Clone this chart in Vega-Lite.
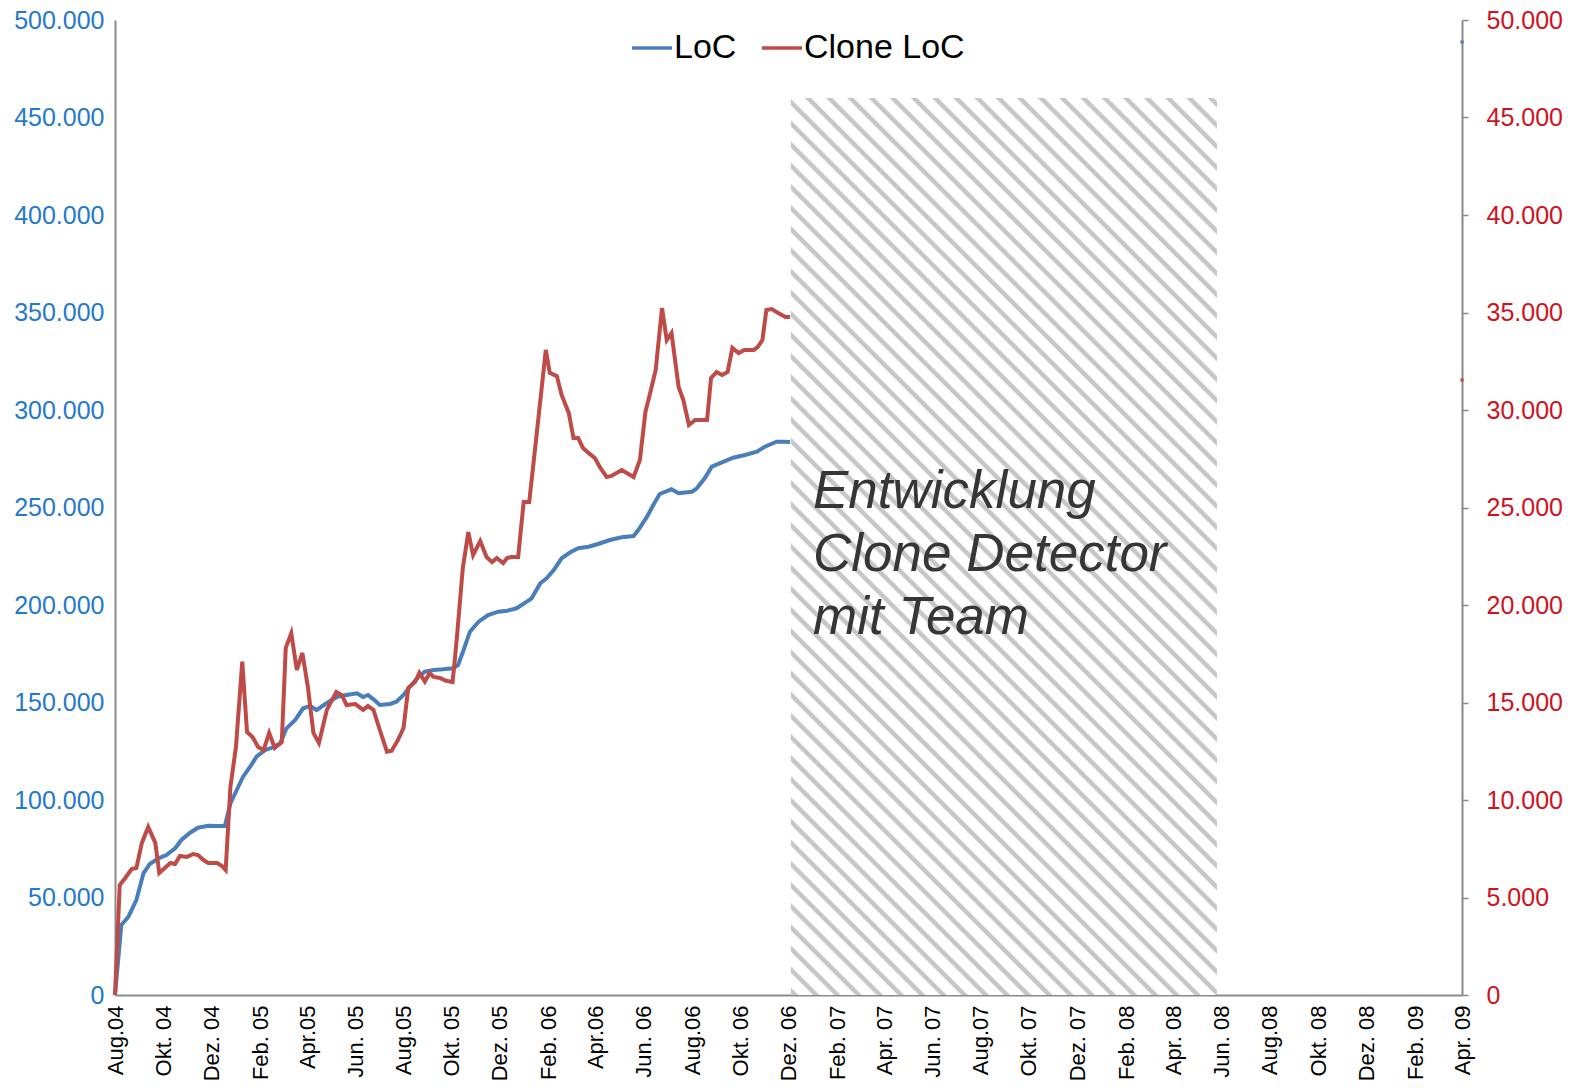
{
  "$schema": "https://vega.github.io/schema/vega-lite/v6.json",
  "width": 1347,
  "height": 975,
  "autosize": {"type": "none"},
  "padding": {"left": 115, "top": 20, "right": 113, "bottom": 93},
  "background": "white",
  "config": {"view": {"stroke": null}, "font": "Liberation Sans"},
  "datasets": {
    "loc": [
      {"date": "2004-08-01", "loc": 0},
      {"date": "2004-08-09", "loc": 35900},
      {"date": "2004-08-18", "loc": 40150},
      {"date": "2004-08-28", "loc": 48720},
      {"date": "2004-09-06", "loc": 62410},
      {"date": "2004-09-14", "loc": 67180},
      {"date": "2004-09-25", "loc": 70100},
      {"date": "2004-10-05", "loc": 71800},
      {"date": "2004-10-16", "loc": 75230},
      {"date": "2004-10-24", "loc": 79490},
      {"date": "2004-11-04", "loc": 83230},
      {"date": "2004-11-14", "loc": 85800},
      {"date": "2004-11-27", "loc": 86820},
      {"date": "2004-12-08", "loc": 86670},
      {"date": "2004-12-18", "loc": 86670},
      {"date": "2004-12-25", "loc": 98310},
      {"date": "2005-01-02", "loc": 105130},
      {"date": "2005-01-10", "loc": 111950},
      {"date": "2005-01-19", "loc": 117080},
      {"date": "2005-01-27", "loc": 122200},
      {"date": "2005-02-07", "loc": 125640},
      {"date": "2005-02-17", "loc": 127030},
      {"date": "2005-02-26", "loc": 129080},
      {"date": "2005-03-06", "loc": 136770},
      {"date": "2005-03-17", "loc": 141030},
      {"date": "2005-03-27", "loc": 147030},
      {"date": "2005-04-05", "loc": 148210},
      {"date": "2005-04-13", "loc": 146150},
      {"date": "2005-04-26", "loc": 149740},
      {"date": "2005-05-09", "loc": 152970},
      {"date": "2005-05-21", "loc": 153850},
      {"date": "2005-06-03", "loc": 154720},
      {"date": "2005-06-11", "loc": 152820},
      {"date": "2005-06-17", "loc": 153850},
      {"date": "2005-06-24", "loc": 151640},
      {"date": "2005-07-02", "loc": 148720},
      {"date": "2005-07-15", "loc": 149230},
      {"date": "2005-07-23", "loc": 150410},
      {"date": "2005-08-01", "loc": 153850},
      {"date": "2005-08-09", "loc": 158100},
      {"date": "2005-08-20", "loc": 163230},
      {"date": "2005-08-28", "loc": 165800},
      {"date": "2005-09-08", "loc": 166670},
      {"date": "2005-09-20", "loc": 167030},
      {"date": "2005-10-03", "loc": 167540},
      {"date": "2005-10-09", "loc": 169230},
      {"date": "2005-10-16", "loc": 176920},
      {"date": "2005-10-24", "loc": 186310},
      {"date": "2005-11-04", "loc": 191440},
      {"date": "2005-11-16", "loc": 194870},
      {"date": "2005-11-29", "loc": 196560},
      {"date": "2005-12-10", "loc": 197080},
      {"date": "2005-12-22", "loc": 198310},
      {"date": "2006-01-04", "loc": 201690},
      {"date": "2006-01-10", "loc": 203440},
      {"date": "2006-01-21", "loc": 211130},
      {"date": "2006-01-29", "loc": 213690},
      {"date": "2006-02-07", "loc": 217950},
      {"date": "2006-02-17", "loc": 223950},
      {"date": "2006-02-28", "loc": 227030},
      {"date": "2006-03-10", "loc": 229080},
      {"date": "2006-03-23", "loc": 229900},
      {"date": "2006-04-04", "loc": 231280},
      {"date": "2006-04-19", "loc": 233330},
      {"date": "2006-05-04", "loc": 234720},
      {"date": "2006-05-19", "loc": 235380},
      {"date": "2006-05-25", "loc": 238460},
      {"date": "2006-06-05", "loc": 245280},
      {"date": "2006-06-13", "loc": 251280},
      {"date": "2006-06-21", "loc": 256920},
      {"date": "2006-07-06", "loc": 259330},
      {"date": "2006-07-15", "loc": 257280},
      {"date": "2006-08-01", "loc": 258100},
      {"date": "2006-08-07", "loc": 259850},
      {"date": "2006-08-17", "loc": 264970},
      {"date": "2006-08-26", "loc": 270920},
      {"date": "2006-09-10", "loc": 273490},
      {"date": "2006-09-22", "loc": 275540},
      {"date": "2006-10-07", "loc": 276920},
      {"date": "2006-10-22", "loc": 278620},
      {"date": "2006-11-01", "loc": 281180},
      {"date": "2006-11-16", "loc": 283740},
      {"date": "2006-11-24", "loc": 283740},
      {"date": "2006-12-03", "loc": 283590}
    ],
    "clone": [
      {"date": "2004-08-01", "clone": 0},
      {"date": "2004-08-07", "clone": 5640},
      {"date": "2004-08-14", "clone": 6000},
      {"date": "2004-08-22", "clone": 6460},
      {"date": "2004-08-28", "clone": 6510},
      {"date": "2004-09-04", "clone": 7800},
      {"date": "2004-09-12", "clone": 8620},
      {"date": "2004-09-21", "clone": 7800},
      {"date": "2004-09-26", "clone": 6260},
      {"date": "2004-10-03", "clone": 6510},
      {"date": "2004-10-10", "clone": 6770},
      {"date": "2004-10-16", "clone": 6720},
      {"date": "2004-10-22", "clone": 7130},
      {"date": "2004-10-31", "clone": 7080},
      {"date": "2004-11-08", "clone": 7230},
      {"date": "2004-11-14", "clone": 7180},
      {"date": "2004-11-21", "clone": 6920},
      {"date": "2004-11-27", "clone": 6770},
      {"date": "2004-12-08", "clone": 6770},
      {"date": "2004-12-14", "clone": 6620},
      {"date": "2004-12-19", "clone": 6410},
      {"date": "2004-12-25", "clone": 10670},
      {"date": "2005-01-01", "clone": 12720},
      {"date": "2005-01-09", "clone": 17100},
      {"date": "2005-01-15", "clone": 13490},
      {"date": "2005-01-22", "clone": 13230},
      {"date": "2005-01-29", "clone": 12720},
      {"date": "2005-02-05", "clone": 12560},
      {"date": "2005-02-12", "clone": 13440},
      {"date": "2005-02-19", "clone": 12670},
      {"date": "2005-02-28", "clone": 12970},
      {"date": "2005-03-05", "clone": 17800},
      {"date": "2005-03-12", "clone": 18560},
      {"date": "2005-03-19", "clone": 16670},
      {"date": "2005-03-26", "clone": 17540},
      {"date": "2005-04-02", "clone": 15800},
      {"date": "2005-04-09", "clone": 13440},
      {"date": "2005-04-16", "clone": 12920},
      {"date": "2005-04-26", "clone": 14620},
      {"date": "2005-05-08", "clone": 15540},
      {"date": "2005-05-15", "clone": 15380},
      {"date": "2005-05-21", "clone": 14870},
      {"date": "2005-06-01", "clone": 14920},
      {"date": "2005-06-11", "clone": 14620},
      {"date": "2005-06-17", "clone": 14820},
      {"date": "2005-06-24", "clone": 14620},
      {"date": "2005-07-02", "clone": 13590},
      {"date": "2005-07-11", "clone": 12480},
      {"date": "2005-07-17", "clone": 12530},
      {"date": "2005-07-25", "clone": 13080},
      {"date": "2005-08-01", "clone": 13690},
      {"date": "2005-08-07", "clone": 15740},
      {"date": "2005-08-16", "clone": 16070},
      {"date": "2005-08-21", "clone": 16530},
      {"date": "2005-08-28", "clone": 16070},
      {"date": "2005-09-03", "clone": 16510},
      {"date": "2005-09-08", "clone": 16310},
      {"date": "2005-09-16", "clone": 16260},
      {"date": "2005-09-23", "clone": 16120},
      {"date": "2005-10-02", "clone": 16050},
      {"date": "2005-10-04", "clone": 16820},
      {"date": "2005-10-08", "clone": 18560},
      {"date": "2005-10-15", "clone": 21900},
      {"date": "2005-10-22", "clone": 23740},
      {"date": "2005-10-28", "clone": 22560},
      {"date": "2005-11-06", "clone": 23280},
      {"date": "2005-11-14", "clone": 22460},
      {"date": "2005-11-21", "clone": 22200},
      {"date": "2005-11-27", "clone": 22410},
      {"date": "2005-12-05", "clone": 22150},
      {"date": "2005-12-10", "clone": 22410},
      {"date": "2005-12-16", "clone": 22460},
      {"date": "2005-12-24", "clone": 22460},
      {"date": "2005-12-31", "clone": 25280},
      {"date": "2006-01-07", "clone": 25280},
      {"date": "2006-01-17", "clone": 28970},
      {"date": "2006-01-28", "clone": 33080},
      {"date": "2006-02-02", "clone": 31900},
      {"date": "2006-02-11", "clone": 31740},
      {"date": "2006-02-17", "clone": 30770},
      {"date": "2006-02-26", "clone": 29850},
      {"date": "2006-03-04", "clone": 28560},
      {"date": "2006-03-10", "clone": 28560},
      {"date": "2006-03-16", "clone": 28050},
      {"date": "2006-03-23", "clone": 27800},
      {"date": "2006-03-31", "clone": 27540},
      {"date": "2006-04-07", "clone": 27030},
      {"date": "2006-04-15", "clone": 26560},
      {"date": "2006-04-21", "clone": 26620},
      {"date": "2006-05-04", "clone": 26920},
      {"date": "2006-05-19", "clone": 26560},
      {"date": "2006-05-27", "clone": 27440},
      {"date": "2006-06-03", "clone": 29900},
      {"date": "2006-06-09", "clone": 30870},
      {"date": "2006-06-16", "clone": 32050},
      {"date": "2006-06-24", "clone": 35230},
      {"date": "2006-06-30", "clone": 33590},
      {"date": "2006-07-06", "clone": 33950},
      {"date": "2006-07-15", "clone": 31180},
      {"date": "2006-07-21", "clone": 30510},
      {"date": "2006-07-28", "clone": 29230},
      {"date": "2006-08-05", "clone": 29490},
      {"date": "2006-08-20", "clone": 29490},
      {"date": "2006-08-25", "clone": 31640},
      {"date": "2006-09-01", "clone": 31950},
      {"date": "2006-09-08", "clone": 31800},
      {"date": "2006-09-15", "clone": 31950},
      {"date": "2006-09-21", "clone": 33180},
      {"date": "2006-09-29", "clone": 32920},
      {"date": "2006-10-06", "clone": 33080},
      {"date": "2006-10-18", "clone": 33080},
      {"date": "2006-10-23", "clone": 33230},
      {"date": "2006-10-29", "clone": 33590},
      {"date": "2006-11-03", "clone": 35130},
      {"date": "2006-11-10", "clone": 35180},
      {"date": "2006-11-18", "clone": 34970},
      {"date": "2006-11-27", "clone": 34770},
      {"date": "2006-12-03", "clone": 34770}
    ],
    "ends": [{"date": "2009-04-01", "loc": 488700, "clone": 31540}],
    "phase": [{"start": "2006-12-04", "end": "2008-05-26", "top": 460000, "bottom": 0}],
    "note": [{"date": "2007-01-01", "value": 250000, "label": "Entwicklung\nClone Detector\nmit Team"}]
  },
  "layer": [
    {
      "layer": [
        {
          "data": {"name": "phase"},
          "mark": {
            "type": "rect",
            "fill": {
              "gradient": "linear", "x1": 0, "y1": 1, "x2": 0.5708, "y2": -0.2035,
              "stops": [
                {"offset": 0, "color": "#ffffff"}, {"offset": 0.0016, "color": "#c6c6c6"}, {"offset": 0.0048, "color": "#c6c6c6"}, {"offset": 0.0064, "color": "#ffffff"},
                {"offset": 0.016, "color": "#ffffff"}, {"offset": 0.0176, "color": "#c6c6c6"}, {"offset": 0.0208, "color": "#c6c6c6"}, {"offset": 0.0224, "color": "#ffffff"},
                {"offset": 0.032, "color": "#ffffff"}, {"offset": 0.0336, "color": "#c6c6c6"}, {"offset": 0.0368, "color": "#c6c6c6"}, {"offset": 0.0384, "color": "#ffffff"},
                {"offset": 0.048, "color": "#ffffff"}, {"offset": 0.0496, "color": "#c6c6c6"}, {"offset": 0.0528, "color": "#c6c6c6"}, {"offset": 0.0544, "color": "#ffffff"},
                {"offset": 0.064, "color": "#ffffff"}, {"offset": 0.0656, "color": "#c6c6c6"}, {"offset": 0.0688, "color": "#c6c6c6"}, {"offset": 0.0704, "color": "#ffffff"},
                {"offset": 0.08, "color": "#ffffff"}, {"offset": 0.0816, "color": "#c6c6c6"}, {"offset": 0.0848, "color": "#c6c6c6"}, {"offset": 0.0864, "color": "#ffffff"},
                {"offset": 0.096, "color": "#ffffff"}, {"offset": 0.0976, "color": "#c6c6c6"}, {"offset": 0.1008, "color": "#c6c6c6"}, {"offset": 0.1024, "color": "#ffffff"},
                {"offset": 0.112, "color": "#ffffff"}, {"offset": 0.1136, "color": "#c6c6c6"}, {"offset": 0.1168, "color": "#c6c6c6"}, {"offset": 0.1184, "color": "#ffffff"},
                {"offset": 0.128, "color": "#ffffff"}, {"offset": 0.1296, "color": "#c6c6c6"}, {"offset": 0.1328, "color": "#c6c6c6"}, {"offset": 0.1344, "color": "#ffffff"},
                {"offset": 0.144, "color": "#ffffff"}, {"offset": 0.1456, "color": "#c6c6c6"}, {"offset": 0.1488, "color": "#c6c6c6"}, {"offset": 0.1504, "color": "#ffffff"},
                {"offset": 0.16, "color": "#ffffff"}, {"offset": 0.1616, "color": "#c6c6c6"}, {"offset": 0.1648, "color": "#c6c6c6"}, {"offset": 0.1664, "color": "#ffffff"},
                {"offset": 0.176, "color": "#ffffff"}, {"offset": 0.1776, "color": "#c6c6c6"}, {"offset": 0.1808, "color": "#c6c6c6"}, {"offset": 0.1824, "color": "#ffffff"},
                {"offset": 0.192, "color": "#ffffff"}, {"offset": 0.1936, "color": "#c6c6c6"}, {"offset": 0.1968, "color": "#c6c6c6"}, {"offset": 0.1984, "color": "#ffffff"},
                {"offset": 0.208, "color": "#ffffff"}, {"offset": 0.2096, "color": "#c6c6c6"}, {"offset": 0.2128, "color": "#c6c6c6"}, {"offset": 0.2144, "color": "#ffffff"},
                {"offset": 0.224, "color": "#ffffff"}, {"offset": 0.2256, "color": "#c6c6c6"}, {"offset": 0.2288, "color": "#c6c6c6"}, {"offset": 0.2304, "color": "#ffffff"},
                {"offset": 0.24, "color": "#ffffff"}, {"offset": 0.2416, "color": "#c6c6c6"}, {"offset": 0.2448, "color": "#c6c6c6"}, {"offset": 0.2464, "color": "#ffffff"},
                {"offset": 0.256, "color": "#ffffff"}, {"offset": 0.2576, "color": "#c6c6c6"}, {"offset": 0.2608, "color": "#c6c6c6"}, {"offset": 0.2624, "color": "#ffffff"},
                {"offset": 0.272, "color": "#ffffff"}, {"offset": 0.2736, "color": "#c6c6c6"}, {"offset": 0.2768, "color": "#c6c6c6"}, {"offset": 0.2784, "color": "#ffffff"},
                {"offset": 0.288, "color": "#ffffff"}, {"offset": 0.2896, "color": "#c6c6c6"}, {"offset": 0.2928, "color": "#c6c6c6"}, {"offset": 0.2944, "color": "#ffffff"},
                {"offset": 0.304, "color": "#ffffff"}, {"offset": 0.3056, "color": "#c6c6c6"}, {"offset": 0.3088, "color": "#c6c6c6"}, {"offset": 0.3104, "color": "#ffffff"},
                {"offset": 0.32, "color": "#ffffff"}, {"offset": 0.3216, "color": "#c6c6c6"}, {"offset": 0.3248, "color": "#c6c6c6"}, {"offset": 0.3264, "color": "#ffffff"},
                {"offset": 0.336, "color": "#ffffff"}, {"offset": 0.3376, "color": "#c6c6c6"}, {"offset": 0.3408, "color": "#c6c6c6"}, {"offset": 0.3424, "color": "#ffffff"},
                {"offset": 0.352, "color": "#ffffff"}, {"offset": 0.3536, "color": "#c6c6c6"}, {"offset": 0.3568, "color": "#c6c6c6"}, {"offset": 0.3584, "color": "#ffffff"},
                {"offset": 0.368, "color": "#ffffff"}, {"offset": 0.3696, "color": "#c6c6c6"}, {"offset": 0.3728, "color": "#c6c6c6"}, {"offset": 0.3744, "color": "#ffffff"},
                {"offset": 0.384, "color": "#ffffff"}, {"offset": 0.3856, "color": "#c6c6c6"}, {"offset": 0.3888, "color": "#c6c6c6"}, {"offset": 0.3904, "color": "#ffffff"},
                {"offset": 0.4, "color": "#ffffff"}, {"offset": 0.4016, "color": "#c6c6c6"}, {"offset": 0.4048, "color": "#c6c6c6"}, {"offset": 0.4064, "color": "#ffffff"},
                {"offset": 0.416, "color": "#ffffff"}, {"offset": 0.4176, "color": "#c6c6c6"}, {"offset": 0.4208, "color": "#c6c6c6"}, {"offset": 0.4224, "color": "#ffffff"},
                {"offset": 0.432, "color": "#ffffff"}, {"offset": 0.4336, "color": "#c6c6c6"}, {"offset": 0.4368, "color": "#c6c6c6"}, {"offset": 0.4384, "color": "#ffffff"},
                {"offset": 0.448, "color": "#ffffff"}, {"offset": 0.4496, "color": "#c6c6c6"}, {"offset": 0.4528, "color": "#c6c6c6"}, {"offset": 0.4544, "color": "#ffffff"},
                {"offset": 0.464, "color": "#ffffff"}, {"offset": 0.4656, "color": "#c6c6c6"}, {"offset": 0.4688, "color": "#c6c6c6"}, {"offset": 0.4704, "color": "#ffffff"},
                {"offset": 0.48, "color": "#ffffff"}, {"offset": 0.4816, "color": "#c6c6c6"}, {"offset": 0.4848, "color": "#c6c6c6"}, {"offset": 0.4864, "color": "#ffffff"},
                {"offset": 0.496, "color": "#ffffff"}, {"offset": 0.4976, "color": "#c6c6c6"}, {"offset": 0.5008, "color": "#c6c6c6"}, {"offset": 0.5024, "color": "#ffffff"},
                {"offset": 0.512, "color": "#ffffff"}, {"offset": 0.5136, "color": "#c6c6c6"}, {"offset": 0.5168, "color": "#c6c6c6"}, {"offset": 0.5184, "color": "#ffffff"},
                {"offset": 0.528, "color": "#ffffff"}, {"offset": 0.5296, "color": "#c6c6c6"}, {"offset": 0.5328, "color": "#c6c6c6"}, {"offset": 0.5344, "color": "#ffffff"},
                {"offset": 0.544, "color": "#ffffff"}, {"offset": 0.5456, "color": "#c6c6c6"}, {"offset": 0.5488, "color": "#c6c6c6"}, {"offset": 0.5504, "color": "#ffffff"},
                {"offset": 0.56, "color": "#ffffff"}, {"offset": 0.5616, "color": "#c6c6c6"}, {"offset": 0.5648, "color": "#c6c6c6"}, {"offset": 0.5664, "color": "#ffffff"},
                {"offset": 0.576, "color": "#ffffff"}, {"offset": 0.5776, "color": "#c6c6c6"}, {"offset": 0.5808, "color": "#c6c6c6"}, {"offset": 0.5824, "color": "#ffffff"},
                {"offset": 0.592, "color": "#ffffff"}, {"offset": 0.5936, "color": "#c6c6c6"}, {"offset": 0.5968, "color": "#c6c6c6"}, {"offset": 0.5984, "color": "#ffffff"},
                {"offset": 0.608, "color": "#ffffff"}, {"offset": 0.6096, "color": "#c6c6c6"}, {"offset": 0.6128, "color": "#c6c6c6"}, {"offset": 0.6144, "color": "#ffffff"},
                {"offset": 0.624, "color": "#ffffff"}, {"offset": 0.6256, "color": "#c6c6c6"}, {"offset": 0.6288, "color": "#c6c6c6"}, {"offset": 0.6304, "color": "#ffffff"},
                {"offset": 0.64, "color": "#ffffff"}, {"offset": 0.6416, "color": "#c6c6c6"}, {"offset": 0.6448, "color": "#c6c6c6"}, {"offset": 0.6464, "color": "#ffffff"},
                {"offset": 0.656, "color": "#ffffff"}, {"offset": 0.6576, "color": "#c6c6c6"}, {"offset": 0.6608, "color": "#c6c6c6"}, {"offset": 0.6624, "color": "#ffffff"},
                {"offset": 0.672, "color": "#ffffff"}, {"offset": 0.6736, "color": "#c6c6c6"}, {"offset": 0.6768, "color": "#c6c6c6"}, {"offset": 0.6784, "color": "#ffffff"},
                {"offset": 0.688, "color": "#ffffff"}, {"offset": 0.6896, "color": "#c6c6c6"}, {"offset": 0.6928, "color": "#c6c6c6"}, {"offset": 0.6944, "color": "#ffffff"},
                {"offset": 0.704, "color": "#ffffff"}, {"offset": 0.7056, "color": "#c6c6c6"}, {"offset": 0.7088, "color": "#c6c6c6"}, {"offset": 0.7104, "color": "#ffffff"},
                {"offset": 0.72, "color": "#ffffff"}, {"offset": 0.7216, "color": "#c6c6c6"}, {"offset": 0.7248, "color": "#c6c6c6"}, {"offset": 0.7264, "color": "#ffffff"},
                {"offset": 0.736, "color": "#ffffff"}, {"offset": 0.7376, "color": "#c6c6c6"}, {"offset": 0.7408, "color": "#c6c6c6"}, {"offset": 0.7424, "color": "#ffffff"},
                {"offset": 0.752, "color": "#ffffff"}, {"offset": 0.7536, "color": "#c6c6c6"}, {"offset": 0.7568, "color": "#c6c6c6"}, {"offset": 0.7584, "color": "#ffffff"},
                {"offset": 0.768, "color": "#ffffff"}, {"offset": 0.7696, "color": "#c6c6c6"}, {"offset": 0.7728, "color": "#c6c6c6"}, {"offset": 0.7744, "color": "#ffffff"},
                {"offset": 0.784, "color": "#ffffff"}, {"offset": 0.7856, "color": "#c6c6c6"}, {"offset": 0.7888, "color": "#c6c6c6"}, {"offset": 0.7904, "color": "#ffffff"},
                {"offset": 0.8, "color": "#ffffff"}, {"offset": 0.8016, "color": "#c6c6c6"}, {"offset": 0.8048, "color": "#c6c6c6"}, {"offset": 0.8064, "color": "#ffffff"},
                {"offset": 0.816, "color": "#ffffff"}, {"offset": 0.8176, "color": "#c6c6c6"}, {"offset": 0.8208, "color": "#c6c6c6"}, {"offset": 0.8224, "color": "#ffffff"},
                {"offset": 0.832, "color": "#ffffff"}, {"offset": 0.8336, "color": "#c6c6c6"}, {"offset": 0.8368, "color": "#c6c6c6"}, {"offset": 0.8384, "color": "#ffffff"},
                {"offset": 0.848, "color": "#ffffff"}, {"offset": 0.8496, "color": "#c6c6c6"}, {"offset": 0.8528, "color": "#c6c6c6"}, {"offset": 0.8544, "color": "#ffffff"},
                {"offset": 0.864, "color": "#ffffff"}, {"offset": 0.8656, "color": "#c6c6c6"}, {"offset": 0.8688, "color": "#c6c6c6"}, {"offset": 0.8704, "color": "#ffffff"},
                {"offset": 0.88, "color": "#ffffff"}, {"offset": 0.8816, "color": "#c6c6c6"}, {"offset": 0.8848, "color": "#c6c6c6"}, {"offset": 0.8864, "color": "#ffffff"},
                {"offset": 0.896, "color": "#ffffff"}, {"offset": 0.8976, "color": "#c6c6c6"}, {"offset": 0.9008, "color": "#c6c6c6"}, {"offset": 0.9024, "color": "#ffffff"},
                {"offset": 0.912, "color": "#ffffff"}, {"offset": 0.9136, "color": "#c6c6c6"}, {"offset": 0.9168, "color": "#c6c6c6"}, {"offset": 0.9184, "color": "#ffffff"},
                {"offset": 0.928, "color": "#ffffff"}, {"offset": 0.9296, "color": "#c6c6c6"}, {"offset": 0.9328, "color": "#c6c6c6"}, {"offset": 0.9344, "color": "#ffffff"},
                {"offset": 0.944, "color": "#ffffff"}, {"offset": 0.9456, "color": "#c6c6c6"}, {"offset": 0.9488, "color": "#c6c6c6"}, {"offset": 0.9504, "color": "#ffffff"},
                {"offset": 0.96, "color": "#ffffff"}, {"offset": 0.9616, "color": "#c6c6c6"}, {"offset": 0.9648, "color": "#c6c6c6"}, {"offset": 0.9664, "color": "#ffffff"},
                {"offset": 0.976, "color": "#ffffff"}, {"offset": 0.9776, "color": "#c6c6c6"}, {"offset": 0.9808, "color": "#c6c6c6"}, {"offset": 0.9824, "color": "#ffffff"},
                {"offset": 0.992, "color": "#ffffff"}, {"offset": 0.9936, "color": "#c6c6c6"}, {"offset": 0.9968, "color": "#c6c6c6"}, {"offset": 0.9984, "color": "#ffffff"},
                {"offset": 1, "color": "#ffffff"}
              ]
            }
          },
          "encoding": {
            "x": {
              "field": "start", "type": "temporal",
              "scale": {"type": "utc", "domain": [{"year": 2004, "month": 8, "date": 1, "utc": true}, {"year": 2009, "month": 4, "date": 1, "utc": true}]},
              "axis": {
                "orient": "bottom", "title": null, "grid": false, "ticks": false,
                "domainColor": "#8a8a8a", "domainWidth": 2,
                "labelAngle": -90, "labelFont": "Liberation Sans", "labelFontSize": 22, "labelColor": "#000000",
                "labelPadding": 10, "labelOverlap": false, "labelBound": false, "labelFlush": false,
                "values": [
                  {"year": 2004, "month": 8, "date": 1, "utc": true}, {"year": 2004, "month": 10, "date": 1, "utc": true}, {"year": 2004, "month": 12, "date": 1, "utc": true},
                  {"year": 2005, "month": 2, "date": 1, "utc": true}, {"year": 2005, "month": 4, "date": 1, "utc": true}, {"year": 2005, "month": 6, "date": 1, "utc": true},
                  {"year": 2005, "month": 8, "date": 1, "utc": true}, {"year": 2005, "month": 10, "date": 1, "utc": true}, {"year": 2005, "month": 12, "date": 1, "utc": true},
                  {"year": 2006, "month": 2, "date": 1, "utc": true}, {"year": 2006, "month": 4, "date": 1, "utc": true}, {"year": 2006, "month": 6, "date": 1, "utc": true},
                  {"year": 2006, "month": 8, "date": 1, "utc": true}, {"year": 2006, "month": 10, "date": 1, "utc": true}, {"year": 2006, "month": 12, "date": 1, "utc": true},
                  {"year": 2007, "month": 2, "date": 1, "utc": true}, {"year": 2007, "month": 4, "date": 1, "utc": true}, {"year": 2007, "month": 6, "date": 1, "utc": true},
                  {"year": 2007, "month": 8, "date": 1, "utc": true}, {"year": 2007, "month": 10, "date": 1, "utc": true}, {"year": 2007, "month": 12, "date": 1, "utc": true},
                  {"year": 2008, "month": 2, "date": 1, "utc": true}, {"year": 2008, "month": 4, "date": 1, "utc": true}, {"year": 2008, "month": 6, "date": 1, "utc": true},
                  {"year": 2008, "month": 8, "date": 1, "utc": true}, {"year": 2008, "month": 10, "date": 1, "utc": true}, {"year": 2008, "month": 12, "date": 1, "utc": true},
                  {"year": 2009, "month": 2, "date": 1, "utc": true}, {"year": 2009, "month": 4, "date": 1, "utc": true}
                ],
                "labelExpr": "(utcmonth(datum.value) == 3 && utcyear(datum.value) < 2007 ? 'Apr.' : ['Jan. ','Feb. ','Mär. ','Apr. ','Mai ','Jun. ','Jul. ','Aug.','Sep. ','Okt. ','Nov. ','Dez. '][utcmonth(datum.value)]) + utcFormat(datum.value, '%y')"
              }
            },
            "x2": {"field": "end"},
            "y": {
              "field": "top", "type": "quantitative",
              "scale": {"domain": [0, 500000], "nice": false, "zero": true},
              "axis": {
                "orient": "left", "title": null, "grid": false, "ticks": false,
                "domainColor": "#8a8a8a", "domainWidth": 2,
                "values": [0, 50000, 100000, 150000, 200000, 250000, 300000, 350000, 400000, 450000, 500000],
                "labelExpr": "replace(format(datum.value, ','), ',', '.')",
                "labelFont": "Liberation Sans", "labelFontSize": 25, "labelColor": "#2479CC", "labelPadding": 11
              }
            },
            "y2": {"field": "bottom"}
          }
        },
        {
          "data": {"name": "loc"},
          "mark": {"type": "line", "strokeWidth": 4, "interpolate": "linear"},
          "encoding": {
            "x": {"field": "date", "type": "temporal"},
            "y": {"field": "loc", "type": "quantitative"},
            "color": {
              "datum": "LoC", "type": "nominal",
              "scale": {"domain": ["LoC", "Clone LoC"], "range": ["#4A7EBB", "#BE4B48"]},
              "legend": {
                "orient": "none", "legendX": 515, "legendY": 6, "direction": "horizontal",
                "title": null, "padding": 0, "symbolType": "stroke", "symbolSize": 1600, "symbolStrokeWidth": 3.5,
                "labelFont": "Liberation Sans", "labelFontSize": 34, "labelColor": "#000000", "labelOffset": 0,
                "columnPadding": 18, "labelLimit": 400
              }
            }
          }
        },
        {
          "data": {"name": "note"},
          "mark": {
            "type": "text", "align": "left", "baseline": "alphabetic", "lineBreak": "\n", "lineHeight": 63,
            "font": "Liberation Sans", "fontStyle": "italic", "fontSize": 53, "color": "#363636"
          },
          "encoding": {
            "x": {"field": "date", "type": "temporal"},
            "y": {"field": "value", "type": "quantitative"},
            "text": {"field": "label"}
          }
        },
        {
          "data": {"name": "ends"},
          "mark": {"type": "point", "filled": true, "shape": "square", "size": 10, "color": "#4A7EBB", "opacity": 1},
          "encoding": {
            "x": {"field": "date", "type": "temporal"},
            "y": {"field": "loc", "type": "quantitative"}
          }
        }
      ]
    },
    {
      "layer": [
        {
          "data": {"name": "clone"},
          "mark": {"type": "line", "strokeWidth": 4, "interpolate": "linear"},
          "encoding": {
            "x": {"field": "date", "type": "temporal"},
            "y": {
              "field": "clone", "type": "quantitative",
              "scale": {"domain": [0, 50000], "nice": false, "zero": true},
              "axis": {
                "orient": "right", "title": null, "grid": false, "ticks": true, "tickSize": 6, "tickWidth": 1.5, "tickColor": "#8a8a8a",
                "domainColor": "#8a8a8a", "domainWidth": 2,
                "values": [0, 5000, 10000, 15000, 20000, 25000, 30000, 35000, 40000, 45000, 50000],
                "labelExpr": "replace(format(datum.value, ','), ',', '.')",
                "labelFont": "Liberation Sans", "labelFontSize": 25, "labelColor": "#D0121E", "labelPadding": 18
              }
            },
            "color": {"datum": "Clone LoC", "type": "nominal"}
          }
        },
        {
          "data": {"name": "ends"},
          "mark": {"type": "point", "filled": true, "shape": "square", "size": 10, "color": "#BE4B48", "opacity": 1},
          "encoding": {
            "x": {"field": "date", "type": "temporal"},
            "y": {"field": "clone", "type": "quantitative"}
          }
        }
      ]
    }
  ],
  "resolve": {"scale": {"y": "independent"}}
}
